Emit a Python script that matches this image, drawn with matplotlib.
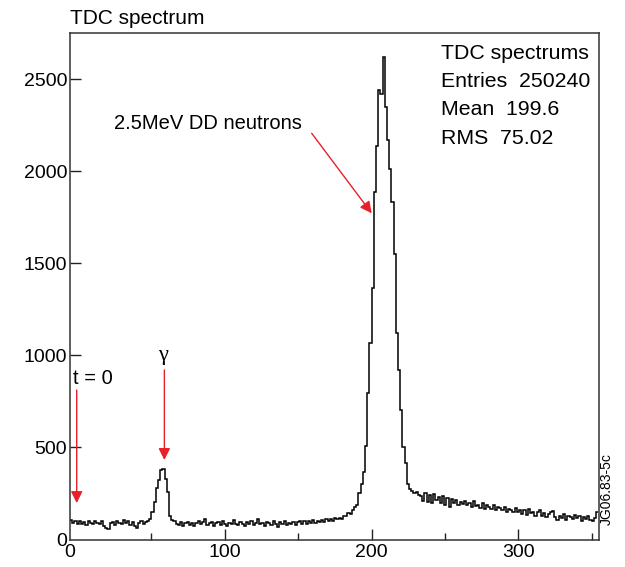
import numpy as np
import matplotlib
matplotlib.use("Agg")
import matplotlib.pyplot as plt
import matplotlib.transforms as mtransforms
from matplotlib.ticker import MultipleLocator

plt.rcParams['font.family'] = ['Liberation Sans', 'DejaVu Sans']

# ---- data ----
x_start = -5.5
bin_width = 1.5
background_left = [106, 92, 100, 82, 102, 86, 97, 78, 99, 88, 82, 101, 90, 84, 98, 76,
                   62, 55, 90, 97, 80, 101, 89, 84, 106, 88, 99, 80, 97, 72, 65, 92,
                   102, 86, 96, 98]
gamma_peak = [110, 150, 205, 280, 325, 380, 382, 330, 260, 125, 105]
background_mid = [98, 83, 78, 94, 76, 90, 97, 80, 92, 73, 88, 100, 82, 94, 112, 78,
                  90, 97, 76, 87, 94, 78, 98, 86, 73, 92, 82, 104, 86, 78, 97, 84,
                  76, 94, 83, 100, 80, 92, 110, 82, 90, 74, 97, 88, 80, 102, 83, 68,
                  94, 86, 100, 78, 92, 84, 97, 78, 94, 102, 86, 98, 83, 100, 88, 106,
                  90, 102, 94, 107, 96, 110, 98, 114, 102, 115]
neutron_peak = [110, 118, 112, 130, 125, 145, 138, 160, 178, 185, 250, 300, 368, 510,
                795, 1066, 1365, 1887, 2140, 2440, 2420, 2620, 2350, 2170, 2015, 1833,
                1550, 1120, 920, 703, 504, 415, 300, 275, 262, 250, 258, 240]
tail = [235, 210, 250, 205, 240, 200, 245, 215, 230, 198, 236, 190, 225, 175, 218, 200,
        212, 188, 205, 195, 210, 185, 200, 178, 208, 182, 190, 172, 196, 165, 185, 175,
        168, 190, 160, 178, 170, 158, 175, 152, 168, 160, 148, 172, 150, 160, 140, 158,
        135, 165, 145, 150, 128, 148, 158, 130, 145, 122, 138, 150, 155, 120, 105, 130,
        115, 140, 108, 128, 120, 110, 135, 115, 125, 100, 122, 112, 130, 105, 98, 115, 150]
counts = background_left + gamma_peak + background_mid + neutron_peak + tail

x_ticks = [0, 100, 200, 300]
x_tick_labels = ["0", "100", "200", "300"]
y_ticks = [0, 500, 1000, 1500, 2000, 2500]
stats_lines = ["TDC spectrums", "Entries  250240", "Mean  199.6", "RMS  75.02"]

edges = x_start + bin_width * np.arange(len(counts) + 1)

# ---- figure ----
W, H = 625, 567
fig = plt.figure(figsize=(W / 100, H / 100), dpi=100)
ax = fig.add_axes([70 / W, 1 - 539.5 / H, (599 - 70) / W, (539.5 - 33.3) / H])

ax.stairs(counts, edges, color='black', lw=1.1, baseline=None)

ax.set_xlim(-5.5, 355)
ax.set_ylim(0, 2750)
ax.set_xticks(x_ticks)
ax.set_xticklabels(x_tick_labels)
ax.set_yticks(y_ticks)
ax.xaxis.set_minor_locator(MultipleLocator(50))
ax.tick_params(axis='both', which='major', direction='in', length=8, width=1,
               labelsize=14, colors='#222222', labelcolor='black')
ax.tick_params(axis='x', which='major', pad=3)
ax.tick_params(axis='y', which='major', pad=2)
ax.tick_params(axis='x', which='minor', direction='in', length=5, width=1, colors='#222222')
ax.tick_params(top=False, right=False, which='both')
for s in ax.spines.values():
    s.set_linewidth(1.1)
    s.set_color('#333333')

# the "0" x label sits at the axis corner in the reference; no tick mark there
xt0 = ax.xaxis.get_major_ticks()[0]
xt0.tick1line.set_visible(False)
xt0.label1.set_transform(xt0.label1.get_transform() +
                         mtransforms.ScaledTranslation(-8 / 100, 0, fig.dpi_scale_trans))
yt0 = ax.yaxis.get_major_ticks()[0]
yt0.tick1line.set_visible(False)

fig.text(70 / W, 1 - 18 / H, "TDC spectrum", fontsize=15, ha='left', va='center')

# stats box text
for k, line in enumerate(stats_lines):
    fig.text(441 / W, 1 - (53.3 + 28.3 * k) / H, line, fontsize=15.3,
             ha='left', va='center')

red = '#e8202a'
arrow_kw = dict(arrowstyle='-|>,head_length=0.7,head_width=0.35', color=red,
                lw=1.0, shrinkA=0, shrinkB=0, mutation_scale=10)

# 2.5 MeV DD neutrons
ax.text(88.7, 2261, "2.5MeV DD neutrons", fontsize=14.5, ha='center', va='center')
ax.annotate('', xy=(200.1, 1772), xytext=(159.2, 2207), arrowprops=arrow_kw)

# gamma
ax.text(58.1, 1002, "γ", fontsize=16, ha='center', va='center',
        family=['Liberation Serif', 'DejaVu Serif'])
ax.annotate('', xy=(58.8, 432), xytext=(58.8, 921), arrowprops=arrow_kw)

# t = 0
ax.text(-3.25, 876, "t = 0", fontsize=14.5, ha='left', va='center')
ax.annotate('', xy=(-0.93, 198), xytext=(-0.93, 812), arrowprops=arrow_kw)

# figure id
fig.text(607 / W, 1 - 489 / H, "JG06.83-5c", fontsize=10, rotation=90,
         ha='center', va='center')

fig.savefig("out.png", dpi=100)
